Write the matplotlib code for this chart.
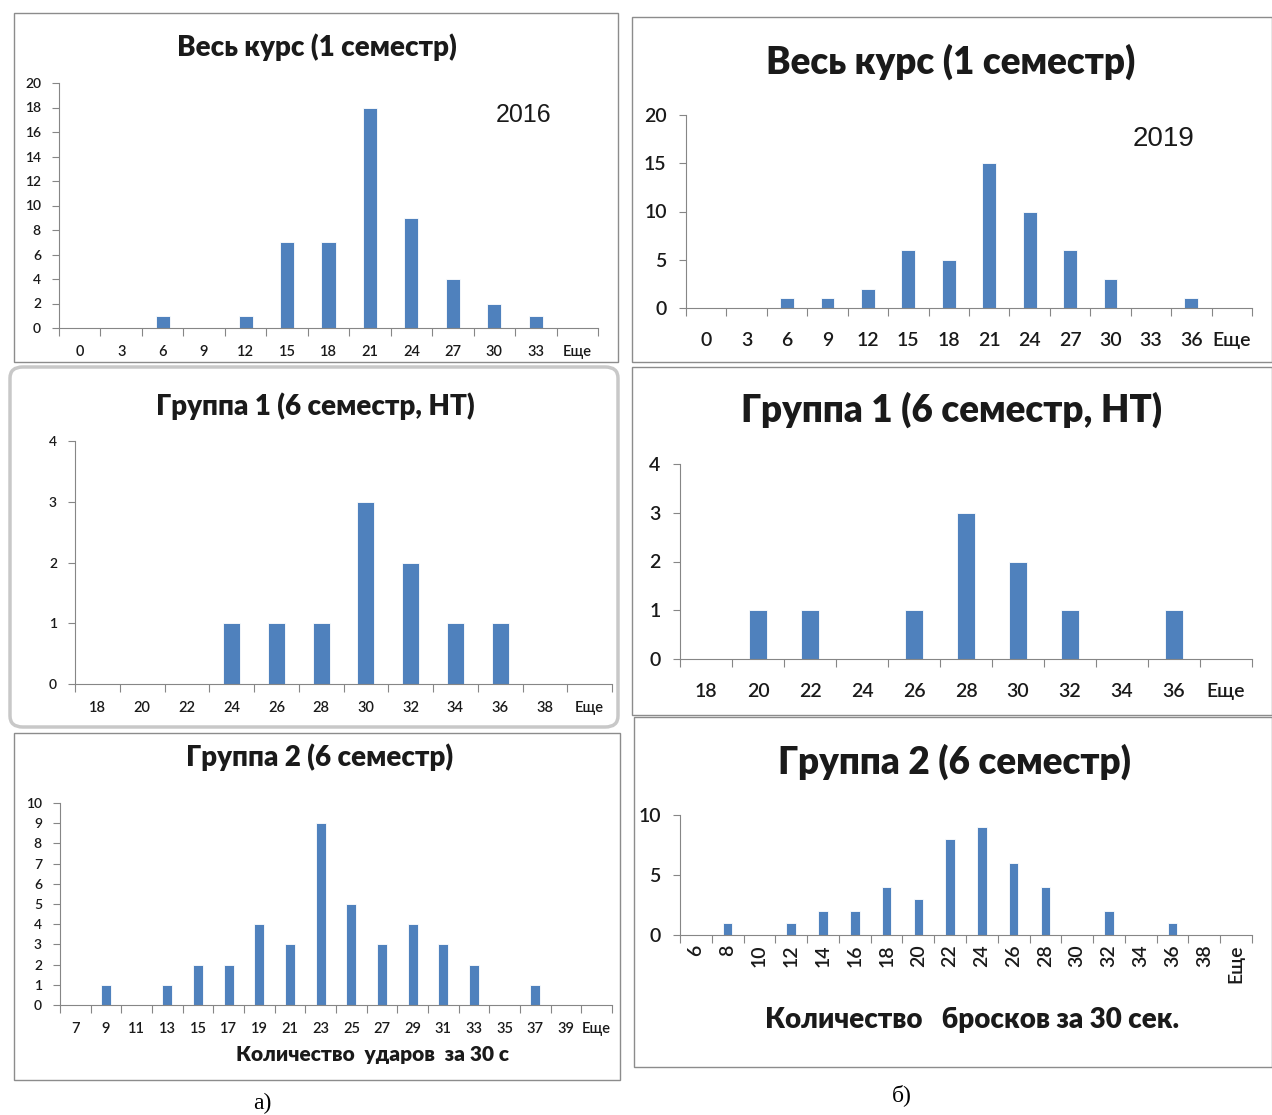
import matplotlib
matplotlib.use("Agg")
import matplotlib.pyplot as plt
from matplotlib.patches import Rectangle, FancyBboxPatch

W, H = 1272, 1115

# --- data ---
cat_a1 = ["0", "3", "6", "9", "12", "15", "18", "21", "24", "27", "30", "33", "Еще"]
val_a1 = [0, 0, 1, 0, 1, 7, 7, 18, 9, 4, 2, 1, 0]

cat_a2 = ["18", "20", "22", "24", "26", "28", "30", "32", "34", "36", "38", "Еще"]
val_a2 = [0, 0, 0, 1, 1, 1, 3, 2, 1, 1, 0, 0]

cat_a3 = ["7", "9", "11", "13", "15", "17", "19", "21", "23", "25", "27", "29",
          "31", "33", "35", "37", "39", "Еще"]
val_a3 = [0, 1, 0, 1, 2, 2, 4, 3, 9, 5, 3, 4, 3, 2, 0, 1, 0, 0]

cat_b1 = ["0", "3", "6", "9", "12", "15", "18", "21", "24", "27", "30", "33", "36", "Еще"]
val_b1 = [0, 0, 1, 1, 2, 6, 5, 15, 10, 6, 3, 0, 1, 0]

cat_b2 = ["18", "20", "22", "24", "26", "28", "30", "32", "34", "36", "Еще"]
val_b2 = [0, 1, 1, 0, 1, 3, 2, 1, 0, 1, 0]

cat_b3 = ["6", "8", "10", "12", "14", "16", "18", "20", "22", "24", "26", "28",
          "30", "32", "34", "36", "38", "Еще"]
val_b3 = [0, 1, 0, 1, 2, 2, 4, 3, 8, 9, 6, 4, 0, 2, 0, 1, 0, 0]

BLUE = "#4F81BD"
AX = "#868686"
TXT = "#1a1a1a"
FONT = ["Lato", "DejaVu Sans"]

fig = plt.figure(figsize=(W / 100, H / 100), dpi=100)


def fx(x):
    return x / W


def fy(y):
    return 1 - y / H


def box(x0, y0, x1, y1, rounded=False):
    if rounded:
        p = FancyBboxPatch((fx(x0), fy(y1)), fx(x1 - x0), (y1 - y0) / H,
                           boxstyle="round,pad=0,rounding_size=0.01",
                           transform=fig.transFigure, fill=False,
                           ec="#c8c8c8", lw=2.5)
    else:
        p = Rectangle((fx(x0), fy(y1)), fx(x1 - x0), (y1 - y0) / H,
                      transform=fig.transFigure, fill=False, ec="#8c8c8c", lw=1)
    fig.patches.append(p)


def panel(l, r, b, t, cats, vals, ymax, ystep, width, ysize, xsize,
          rot=0, xpad=8, ypad=4):
    ax = fig.add_axes([fx(l), fy(b), fx(r - l), (b - t) / H])
    x = list(range(len(cats)))
    ax.bar(x, vals, width=width, color=BLUE, edgecolor="white", linewidth=0.6)
    ax.set_xlim(-0.5, len(cats) - 0.5)
    ax.set_ylim(0, ymax)
    ax.set_yticks(range(0, ymax + 1, ystep))
    ax.set_xticks([i - 0.5 for i in range(len(cats) + 1)], minor=False)
    ax.set_xticklabels([])
    ax.set_xticks(x, minor=True)
    ax.set_xticklabels(cats, minor=True, rotation=rot, fontsize=xsize,
                       family=FONT, color=TXT, weight="semibold")
    ax.tick_params(axis="x", which="major", length=6, color=AX, direction="out")
    ax.tick_params(axis="x", which="minor", length=0, pad=xpad)
    ax.tick_params(axis="y", length=5, color=AX, labelsize=ysize,
                   labelcolor=TXT, pad=ypad)
    for lab in ax.get_yticklabels():
        lab.set_family(FONT)
        lab.set_weight("semibold")
    for s in ["top", "right"]:
        ax.spines[s].set_visible(False)
    ax.spines["left"].set_color(AX)
    ax.spines["bottom"].set_color(AX)
    ax.set_facecolor("none")
    return ax


# panel frames
box(14, 13, 618, 362)
box(10, 367, 618, 727, rounded=True)
box(14, 733, 620, 1080)
box(632, 17, 1272, 362)
box(632, 367, 1272, 715)
box(634, 717, 1272, 1067)

# left column (2016)
panel(59, 598, 328, 83, cat_a1, val_a1, 20, 2, 0.34, 10, 10.5, xpad=12, ypad=8)
panel(75, 612, 684, 441, cat_a2, val_a2, 4, 1, 0.38, 10, 10.5, xpad=12, ypad=8)
panel(60, 612, 1005, 803, cat_a3, val_a3, 10, 1, 0.33, 10, 10.5, xpad=12, ypad=8)

# right column (2019)
panel(686, 1252, 308, 115, cat_b1, val_b1, 20, 5, 0.34, 14, 14, xpad=17, ypad=9)
panel(680, 1252, 659, 464, cat_b2, val_b2, 4, 1, 0.36, 14, 14, xpad=17, ypad=9)
panel(680, 1252, 935, 815, cat_b3, val_b3, 10, 5, 0.3, 14, 14, rot=90,
      xpad=7, ypad=9)

tkw = dict(ha="center", va="center", weight="heavy", family=FONT, color=TXT)
fig.text(fx(317), fy(47), "Весь курс (1 семестр)", fontsize=20, **tkw)
fig.text(fx(315), fy(406), "Группа 1 (6 семестр, НТ)", fontsize=20, **tkw)
fig.text(fx(320), fy(757), "Группа 2 (6 семестр)", fontsize=20, **tkw)
fig.text(fx(951), fy(62), "Весь курс (1 семестр)", fontsize=26.5, **tkw)
fig.text(fx(952), fy(410), "Группа 1 (6 семестр, НТ)", fontsize=26.5, **tkw)
fig.text(fx(955), fy(762), "Группа 2 (6 семестр)", fontsize=26.5, **tkw)

fig.text(fx(372), fy(1055), "Количество  ударов  за 30 с", fontsize=15, **tkw)
fig.text(fx(972), fy(1020), "Количество   бросков за 30 сек.", fontsize=20, **tkw)

fig.text(fx(524), fy(115), "2016", fontsize=18, ha="center", va="center",
         family="Liberation Sans", color=TXT)
fig.text(fx(1164), fy(139), "2019", fontsize=20, ha="center", va="center",
         family="Liberation Sans", color=TXT)

fig.text(fx(262), fy(1103), "а)", fontsize=17, ha="center", va="center",
         family="Liberation Serif", color="black")
fig.text(fx(902), fy(1095), "б)", fontsize=17, ha="center", va="center",
         family="Liberation Serif", color="black")

fig.savefig("out.png", dpi=100, facecolor="white")
